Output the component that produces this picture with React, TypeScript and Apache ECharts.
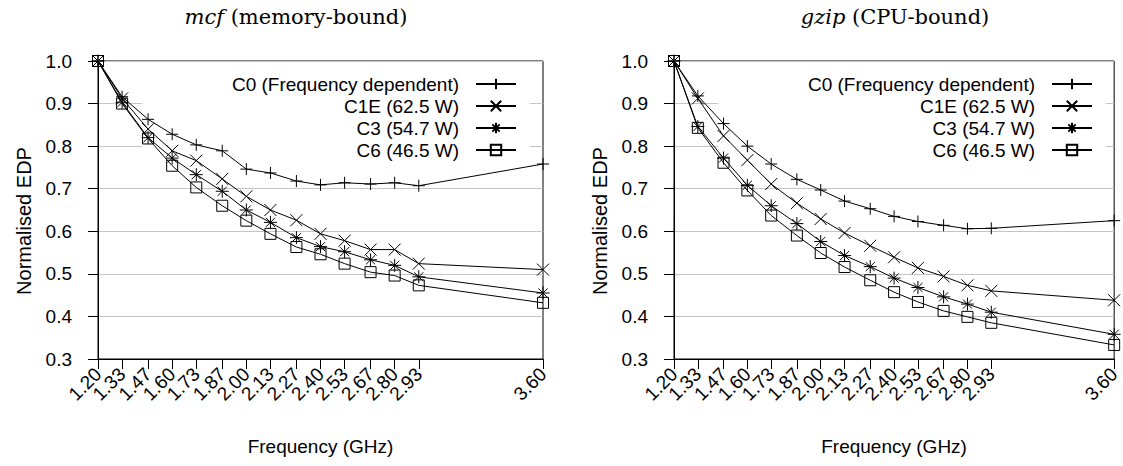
import React, { useEffect, useRef } from 'react';
import * as echarts from 'echarts';

const frequencies = [1.20, 1.33, 1.47, 1.60, 1.73, 1.87, 2.00, 2.13, 2.27, 2.40, 2.53, 2.67, 2.80, 2.93, 3.60];

const seriesNames = ['C0 (Frequency dependent)', 'C1E (62.5 W)', 'C3 (54.7 W)', 'C6 (46.5 W)'];

// mcf (memory-bound)
const mcfC0 = [1.0, 0.916, 0.863, 0.828, 0.803, 0.789, 0.746, 0.737, 0.718, 0.709, 0.714, 0.711, 0.714, 0.707, 0.758];
const mcfC1E = [1.0, 0.912, 0.840, 0.789, 0.766, 0.723, 0.682, 0.650, 0.626, 0.594, 0.578, 0.557, 0.557, 0.524, 0.510];
const mcfC3 = [1.0, 0.903, 0.820, 0.772, 0.733, 0.694, 0.650, 0.621, 0.585, 0.564, 0.552, 0.533, 0.520, 0.493, 0.455];
const mcfC6 = [1.0, 0.900, 0.818, 0.754, 0.703, 0.660, 0.625, 0.594, 0.563, 0.546, 0.524, 0.504, 0.496, 0.473, 0.432];

// gzip (CPU-bound)
const gzipC0 = [1.0, 0.918, 0.853, 0.800, 0.758, 0.722, 0.697, 0.671, 0.653, 0.635, 0.623, 0.614, 0.606, 0.607, 0.625];
const gzipC1E = [1.0, 0.912, 0.824, 0.767, 0.711, 0.666, 0.629, 0.596, 0.566, 0.539, 0.514, 0.494, 0.473, 0.460, 0.438];
const gzipC3 = [1.0, 0.846, 0.772, 0.708, 0.660, 0.618, 0.576, 0.543, 0.517, 0.490, 0.468, 0.446, 0.429, 0.410, 0.358];
const gzipC6 = [1.0, 0.843, 0.761, 0.696, 0.637, 0.590, 0.549, 0.516, 0.485, 0.457, 0.434, 0.413, 0.399, 0.385, 0.333];

const panelTitles = [
  { italic: 'mcf', rest: '(memory-bound)' },
  { italic: 'gzip', rest: '(CPU-bound)' },
];
const panelData = [
  [mcfC0, mcfC1E, mcfC3, mcfC6],
  [gzipC0, gzipC1E, gzipC3, gzipC6],
];

const PLUS = 'path://M0,5L10,5M5,0L5,10';
const CROSS = 'path://M0,0L10,10M10,0L0,10';
const STAR = 'path://M0,5L10,5M5,0L5,10M1.5,1.5L8.5,8.5M8.5,1.5L1.5,8.5';
const symbols = [PLUS, CROSS, STAR, 'rect'];
const symbolSizes = [12, 12, 13, 11];

const SANS = 'Liberation Sans';
const SERIF = 'DejaVu Serif';

export default function App() {
  const ref = useRef<HTMLDivElement>(null);

  useEffect(() => {
    const chart = echarts.init(ref.current!, null, { renderer: 'svg' });

    const gridLefts = [98, 674];
    const titleCenters = [296, 895];
    const legendRights = [606, 30];
    const rowCenters = [84, 106, 128, 150];

    // split tick labels across two axes so ECharts' min/max label overlap logic hides none
    const evenTicks = frequencies.filter((_, k) => k % 2 === 0);
    const oddTicks = frequencies.filter((_, k) => k % 2 === 1);

    const grid = gridLefts.map((l) => ({
      left: l,
      top: 61,
      width: 445,
      height: 298,
      show: true,
      borderColor: '#000',
      borderWidth: 1,
      backgroundColor: 'transparent',
    }));

    const labelStyle = {
      rotate: 45,
      margin: 12,
      showMinLabel: true,
      showMaxLabel: true,
      hideOverlap: false,
      formatter: (v: number) => v.toFixed(2),
      color: '#000',
      fontFamily: SANS,
      fontSize: 19,
    };

    const xAxis: any[] = [];
    gridLefts.forEach((_, g) => {
      xAxis.push({
        gridIndex: g,
        type: 'value',
        position: 'bottom',
        min: 1.2,
        max: 3.6,
        axisLine: { show: true, onZero: false, lineStyle: { color: '#000', width: 1 } },
        axisTick: { show: true, customValues: frequencies, length: 10, lineStyle: { color: '#000' } },
        axisLabel: { ...labelStyle, customValues: evenTicks },
        splitLine: { show: false },
        name: 'Frequency (GHz)',
        nameLocation: 'middle',
        nameGap: 78,
        nameTextStyle: { color: '#000', fontFamily: SANS, fontSize: 19 },
      });
      xAxis.push({
        gridIndex: g,
        type: 'value',
        position: 'bottom',
        offset: 0,
        min: 1.2,
        max: 3.6,
        axisLine: { show: false, onZero: false },
        axisTick: { show: false },
        axisLabel: { ...labelStyle, customValues: oddTicks },
        splitLine: { show: false },
      });
    });

    const yAxis = gridLefts.map((_, g) => ({
      gridIndex: g,
      type: 'value',
      min: 0.3,
      max: 1.0,
      interval: 0.1,
      axisLine: { show: true, lineStyle: { color: '#000', width: 1 } },
      axisTick: { show: true, length: 10, lineStyle: { color: '#000' } },
      axisLabel: {
        margin: 26,
        showMinLabel: true,
        showMaxLabel: true,
        formatter: (v: number) => v.toFixed(1),
        color: '#000',
        fontFamily: SANS,
        fontSize: 19,
      },
      splitLine: { show: true, lineStyle: { color: '#c4c4c4', width: 1 } },
      name: 'Normalised EDP',
      nameLocation: 'middle',
      nameGap: 64,
      nameRotate: 90,
      nameTextStyle: { color: '#000', fontFamily: SANS, fontSize: 20, padding: [0, 22, 0, 0] },
    }));

    const series: any[] = [];
    panelData.forEach((arrs, g) => {
      arrs.forEach((vals, i) => {
        series.push({
          type: 'line',
          name: seriesNames[i],
          xAxisIndex: g * 2,
          yAxisIndex: g,
          data: frequencies.map((f, k) => [f, vals[k]]),
          symbol: symbols[i],
          symbolSize: symbolSizes[i],
          showAllSymbol: true,
          silent: true,
          lineStyle: { color: '#000', width: 1 },
          itemStyle: { color: 'transparent', borderColor: '#000', borderWidth: 1 },
          emphasis: { disabled: true },
          z: 2,
        });
      });
    });

    const legend: any[] = [];
    legendRights.forEach((r) => {
      seriesNames.forEach((name, i) => {
        legend.push({
          data: [name],
          orient: 'horizontal',
          right: r,
          top: rowCenters[i] - 10,
          align: 'right',
          itemWidth: 40,
          itemHeight: 13,
          itemGap: 0,
          padding: 0,
          selectedMode: false,
          textStyle: { color: '#000', fontFamily: SANS, fontSize: 19, lineHeight: 20, padding: [0, 12, 0, 0] },
        });
      });
    });

    const title = panelTitles.map((t, g) => ({
      text: `{i|${t.italic}} {n|${t.rest}}`,
      left: titleCenters[g],
      top: 6,
      textAlign: 'center',
      padding: 0,
      textStyle: {
        fontFamily: SERIF,
        fontSize: 21,
        fontWeight: 'normal',
        color: '#000',
        rich: {
          i: { fontFamily: SERIF, fontStyle: 'italic', fontSize: 21, color: '#000' },
          n: { fontFamily: SERIF, fontSize: 21, color: '#000' },
        },
      },
    }));

    const graphic = gridLefts.map((l) => ({
      type: 'rect',
      z: 1,
      silent: true,
      shape: { x: l + 44, y: 72, width: 388, height: 88 },
      style: { fill: '#fff' },
    }));

    chart.setOption({
      animation: false,
      backgroundColor: '#fff',
      title,
      grid,
      xAxis,
      yAxis,
      legend,
      series,
      graphic,
    });

    return () => chart.dispose();
  }, []);

  return (
    <div
      ref={ref}
      style={{ position: 'absolute', left: 0, top: 0, width: 1123, height: 466, background: '#fff' }}
    />
  );
}
